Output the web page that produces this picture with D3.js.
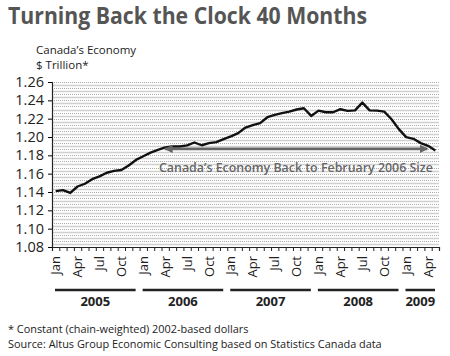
<!DOCTYPE html>
<html><head><meta charset="utf-8">
<script src="https://cdn.jsdelivr.net/npm/d3@7"></script>
<style>
body{margin:0;background:#fff;}
svg{display:block;font-family:"Open Sans",sans-serif;}
</style></head>
<body><svg id="c" width="450" height="356"></svg>
<script>
const years = [2005, 2006, 2007, 2008, 2009];
const monthNames = ["Jan","Feb","Mar","Apr","May","Jun","Jul","Aug","Sep","Oct","Nov","Dec"];
const monthsInYear = [12, 12, 12, 12, 5];
// Real GDP, $ trillion (chained 2002 dollars), Jan 2005 - May 2009
const values = [
  1.141, 1.142, 1.139, 1.146, 1.149, 1.154, 1.157, 1.161, 1.163, 1.164, 1.169, 1.175,
  1.179, 1.183, 1.186, 1.1886, 1.1897, 1.1897, 1.1908, 1.194, 1.191, 1.1933, 1.1944, 1.1977,
  1.2006, 1.2042, 1.2103, 1.2129, 1.2151, 1.2216, 1.2241, 1.226, 1.2277, 1.230, 1.2314, 1.223,
  1.2288, 1.227, 1.227, 1.2303, 1.2285, 1.229, 1.2375, 1.229, 1.2288, 1.2277, 1.2194, 1.2086,
  1.1999, 1.198, 1.1933, 1.1904, 1.1853
];
const yTicks = [1.08, 1.10, 1.12, 1.14, 1.16, 1.18, 1.20, 1.22, 1.24, 1.26];
const labelMonths = ["Jan","Apr","Jul","Oct"];
const arrowLevel = 1.187;
const arrowFrom = 15, arrowTo = 51.4;

const categories = [];
years.forEach((yr, yi) => { for (let m = 0; m < monthsInYear[yi]; m++) categories.push({year: yr, month: monthNames[m], i: categories.length}); });

const svg = d3.select("#c");
const L = 52, R = 439, T = 82, B = 247;
const x = d3.scaleBand().domain(categories.map(d => d.i)).range([L, R]).padding(0);
const xb = d3.scaleLinear().domain([0, categories.length]).range([L, R]);
const y = d3.scaleLinear().domain([1.08, 1.26]).range([B, T]);

// title
svg.append("text").attr("x", 8).attr("y", 24).attr("font-size", 23.5).attr("font-weight", "bold")
  .attr("fill", "#555").attr("textLength", 359).attr("lengthAdjust", "spacingAndGlyphs")
  .text("Turning Back the Clock 40 Months");
svg.append("text").attr("x", 36).attr("y", 54).attr("font-size", 11.5).attr("fill", "#222").text("Canada’s Economy");
svg.append("text").attr("x", 36).attr("y", 69).attr("font-size", 11.5).attr("fill", "#222").text("$ Trillion*");

// background line pattern
const minor = d3.range(0, 55).map(k => 1.08 + k * 0.02 / 6);
svg.append("g").selectAll("line").data(minor).join("line")
  .attr("x1", L).attr("x2", R)
  .attr("y1", d => Math.round(y(d)) + 0.5).attr("y2", d => Math.round(y(d)) + 0.5)
  .attr("stroke", (d, k) => k % 2 === 0 ? "#aaa" : "#d0d0d0")
  .attr("stroke-width", (d, k) => k % 2 === 0 ? 1 : 1.6)
  .attr("stroke-dasharray", (d, k) => k % 2 === 0 ? "1,1" : null);

// y axis
const ya = svg.append("g").attr("transform", `translate(${L},0)`)
  .call(d3.axisLeft(y).tickValues(yTicks).tickSize(4).tickPadding(4).tickFormat(d3.format(".2f")));
ya.select(".domain").attr("stroke", "#222").attr("stroke-width", 1.2);
ya.selectAll("text").attr("font-size", 14.5).attr("fill", "#222").attr("font-family", "Open Sans");

// x axis ticks
const xa = svg.append("g").attr("transform", `translate(0,${B})`)
  .call(d3.axisBottom(xb).tickValues(d3.range(0, categories.length + 1)).tickSize(4).tickFormat(""));
xa.select(".domain").attr("stroke", "#222").attr("stroke-width", 1.2);
xa.selectAll(".tick line").attr("stroke", "#222");

// month labels
const ml = svg.append("g").attr("transform", `translate(0,${B + 9})`)
  .call(d3.axisBottom(x).tickValues(categories.filter(d => labelMonths.includes(d.month)).map(d => d.i))
    .tickSize(0).tickFormat(i => categories[i].month));
ml.select(".domain").remove();
ml.selectAll("text").attr("font-size", 13).attr("fill", "#222").attr("font-family", "Open Sans")
  .attr("transform", "rotate(-90)").attr("text-anchor", "end").attr("x", 0).attr("y", 0).attr("dy", "0.35em");

// year bars & labels
years.forEach(yr => {
  const cs = categories.filter(d => d.year === yr);
  const x0 = x(cs[0].i) + 3, x1 = x(cs[cs.length - 1].i) + x.bandwidth() - 4;
  svg.append("line").attr("x1", x0).attr("x2", x1).attr("y1", 290).attr("y2", 290)
    .attr("stroke", "#222").attr("stroke-width", 2.5);
  svg.append("text").attr("x", (x0 + x1) / 2).attr("y", 306).attr("text-anchor", "middle")
    .attr("font-size", 13).attr("font-weight", "bold").attr("fill", "#222").text(yr);
});

// line
svg.append("path").datum(values)
  .attr("d", d3.line().x((d, i) => x(i) + x.bandwidth() / 2).y(d => y(d)))
  .attr("fill", "none").attr("stroke", "#111").attr("stroke-width", 2.4).attr("stroke-linejoin", "round");

// arrow
const defs = svg.append("defs");
defs.append("marker").attr("id", "ah").attr("viewBox", "0 0 10 10").attr("refX", 9).attr("refY", 5)
  .attr("markerWidth", 3.2).attr("markerHeight", 3.2).attr("orient", "auto-start-reverse")
  .append("path").attr("d", "M0,0L10,5L0,10z").attr("fill", "#666");
const ax0 = x(arrowFrom) + x.bandwidth() / 2, ax1 = xb(arrowTo);
svg.append("line").attr("x1", ax0).attr("x2", ax1).attr("y1", y(arrowLevel)).attr("y2", y(arrowLevel))
  .attr("stroke", "#666").attr("stroke-width", 2.6)
  .attr("marker-start", "url(#ah)").attr("marker-end", "url(#ah)");
svg.append("text").attr("x", 159).attr("y", 172).attr("font-size", 12.4).attr("font-weight", 600)
  .attr("fill", "#666")
  .text("Canada’s Economy Back to February 2006 Size");

// footnotes
svg.append("text").attr("x", 8).attr("y", 333).attr("font-size", 10.9).attr("fill", "#222")
  .text("* Constant (chain-weighted) 2002-based dollars");
svg.append("text").attr("x", 8).attr("y", 348).attr("font-size", 10.9).attr("fill", "#222")
  .text("Source: Altus Group Economic Consulting based on Statistics Canada data");
</script></body></html>
